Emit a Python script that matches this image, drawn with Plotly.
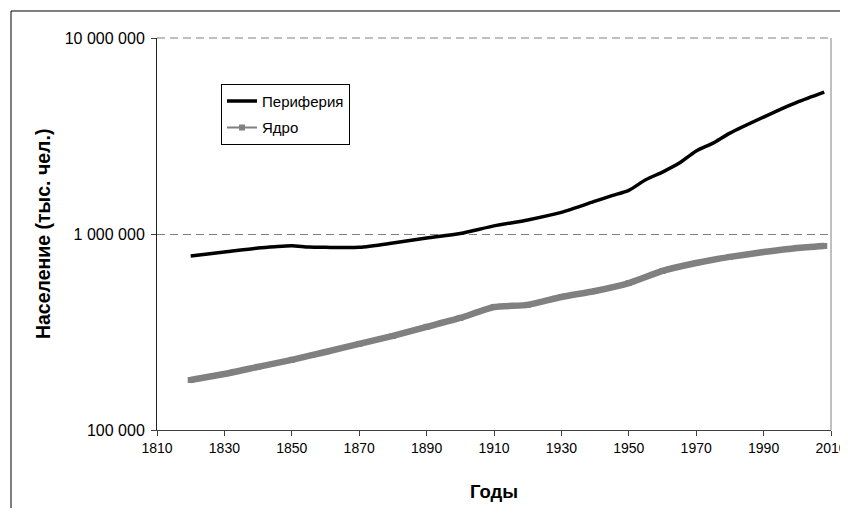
import plotly.graph_objects as go

# Data
years_periphery = [1820, 1830, 1840, 1845, 1850, 1855, 1860, 1870, 1880, 1890, 1900, 1910,
                   1920, 1930, 1940, 1945, 1950, 1955, 1960, 1965, 1970, 1975, 1980, 1990, 2000, 2008]
periphery = [773000, 809000, 849000, 862000, 871000, 858000, 855000, 855000, 899000, 954000,
             1006000, 1100000, 1180000, 1290000, 1470000, 1570000, 1670000, 1890000, 2070000,
             2300000, 2650000, 2910000, 3270000, 3950000, 4710000, 5300000]

years_core = [1820, 1830, 1840, 1850, 1860, 1870, 1880, 1890, 1900, 1910, 1920, 1930, 1940,
              1950, 1960, 1970, 1980, 1990, 2000, 2008]
core = [180000, 193000, 210000, 228000, 250000, 275000, 302000, 336000, 373000, 424000,
        435000, 477000, 512000, 562000, 648000, 711000, 764000, 809000, 849000, 869000]

y_tickvals = [100000, 1000000, 10000000]
y_ticktext = ["100 000", "1 000 000", "10 000 000"]
x_tickvals = [1810, 1830, 1850, 1870, 1890, 1910, 1930, 1950, 1970, 1990, 2010]

FONT = "Liberation Sans, Arial, sans-serif"

fig = go.Figure()

fig.add_trace(go.Scatter(
    x=years_periphery, y=periphery, name="Периферия", mode="lines",
    legendgroup="p",
    line=dict(color="black", width=3.5, shape="spline", smoothing=0.7),
))
# legend-style thin line with markers
fig.add_trace(go.Scatter(
    x=years_core, y=core, name="Ядро", mode="lines+markers",
    legendgroup="c",
    line=dict(color="#808080", width=2, shape="spline", smoothing=0.5),
    marker=dict(symbol="square", size=6, color="#808080"),
))
# thick band to mimic dense annual markers
fig.add_trace(go.Scatter(
    x=years_core, y=core, name="Ядро", mode="lines", showlegend=False,
    legendgroup="c",
    line=dict(color="#808080", width=6.5, shape="spline", smoothing=0.5),
))

fig.update_layout(
    width=840, height=500,
    margin=dict(l=149, r=17, t=30, b=78),
    paper_bgcolor="white", plot_bgcolor="white",
    font=dict(family=FONT, size=14, color="black"),
    showlegend=True,
    legend=dict(
        x=0.095, y=0.883, xanchor="left", yanchor="top",
        bgcolor="white", bordercolor="black", borderwidth=1,
        font=dict(family=FONT, size=15, color="black"),
        tracegroupgap=4,
    ),
    xaxis=dict(
        range=[1810, 2010], tickvals=x_tickvals,
        showgrid=False, zeroline=False, automargin=False,
        showline=True, linecolor="#404040", linewidth=1,
        ticks="outside", ticklen=5, tickcolor="#404040",
        tickfont=dict(family=FONT, size=14, color="black"),
    ),
    yaxis=dict(
        type="log", range=[5, 7], tickvals=y_tickvals, ticktext=y_ticktext,
        showgrid=True, gridcolor="#808080", griddash="8px,5px", gridwidth=1,
        zeroline=False, automargin=False,
        showline=True, linecolor="#202020", linewidth=1,
        ticks="outside", ticklen=5, tickcolor="#404040",
        ticklabelstandoff=3,
        tickfont=dict(family=FONT, size=16, color="black"),
    ),
    annotations=[
        dict(text="<b>Население (тыс. чел.)</b>", xref="paper", yref="paper",
             x=-0.169, y=0.5, xanchor="center", yanchor="middle",
             textangle=-90, showarrow=False,
             font=dict(family=FONT, size=19.5, color="black")),
        dict(text="<b>Годы</b>", xref="paper", yref="paper",
             x=0.5, y=-0.158, xanchor="center", yanchor="middle", showarrow=False,
             font=dict(family=FONT, size=18.5, color="black")),
    ],
    shapes=[
        # right border of plot area
        dict(type="line", xref="paper", yref="paper", x0=1, x1=1, y0=0, y1=1,
             line=dict(color="#808080", width=1)),
        # dashed gridline at top (10 000 000)
        dict(type="line", xref="paper", yref="paper", x0=0, x1=1, y0=1, y1=1,
             line=dict(color="#808080", width=1, dash="8px,5px")),
        # outer chart frame: left and top edges
        dict(type="line", xref="paper", yref="paper", x0=-0.2166, x1=-0.2166,
             y0=-0.3, y1=1.0689, line=dict(color="black", width=1)),
        dict(type="line", xref="paper", yref="paper", x0=-0.2166, x1=1.1,
             y0=1.0689, y1=1.0689, line=dict(color="black", width=1)),
    ],
)

fig.write_html("out.html")
